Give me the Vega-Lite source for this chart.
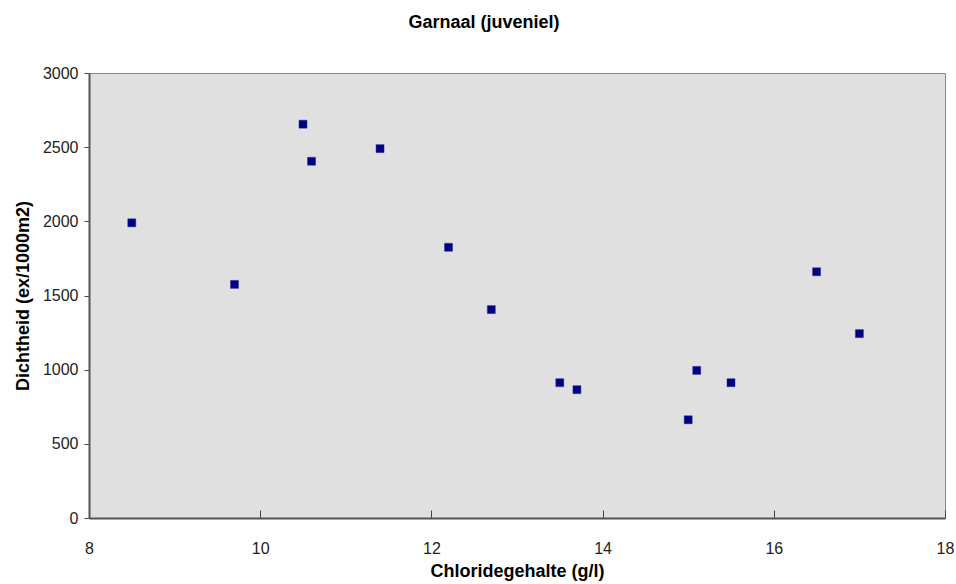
{
  "$schema": "https://vega.github.io/schema/vega-lite/v6.json",
  "width": 856,
  "height": 445,
  "autosize": {"type": "none"},
  "padding": {"left": 89, "top": 73, "right": 11, "bottom": 66},
  "background": "white",
  "title": {
    "text": "Garnaal (juveniel)",
    "font": "Liberation Sans",
    "fontSize": 18,
    "fontWeight": "bold",
    "color": "#000000",
    "anchor": "middle",
    "dx": -33,
    "offset": 33
  },
  "config": {
    "view": {"fill": "#e0e0e0", "stroke": "#888888", "strokeWidth": 1},
    "axis": {
      "labelFont": "Liberation Sans",
      "labelFontSize": 16,
      "labelColor": "#222222",
      "titleFont": "Liberation Sans",
      "titleFontSize": 18,
      "titleFontWeight": "bold",
      "titleColor": "#000000",
      "domainColor": "#555555",
      "domainWidth": 2,
      "tickColor": "#444444",
      "grid": false
    }
  },
  "data": {
    "values": [
      {"chloride": 8.5, "dichtheid": 1990},
      {"chloride": 9.7, "dichtheid": 1575},
      {"chloride": 10.5, "dichtheid": 2655},
      {"chloride": 10.6, "dichtheid": 2405},
      {"chloride": 11.4, "dichtheid": 2490},
      {"chloride": 12.2, "dichtheid": 1825},
      {"chloride": 12.7, "dichtheid": 1405},
      {"chloride": 13.5, "dichtheid": 912},
      {"chloride": 13.7, "dichtheid": 865},
      {"chloride": 15.0, "dichtheid": 662},
      {"chloride": 15.1, "dichtheid": 995},
      {"chloride": 15.5, "dichtheid": 912},
      {"chloride": 16.5, "dichtheid": 1660},
      {"chloride": 17.0, "dichtheid": 1243}
    ]
  },
  "mark": {"type": "square", "size": 64, "color": "#000080", "opacity": 1, "stroke": "#3030a0", "strokeWidth": 0.5},
  "encoding": {
    "x": {
      "field": "chloride",
      "type": "quantitative",
      "scale": {"domain": [8, 18], "nice": false, "zero": false},
      "axis": {
        "title": "Chloridegehalte (g/l)",
        "values": [8, 10, 12, 14, 16, 18],
        "format": "d",
        "tickSize": -8,
        "labelPadding": 30,
        "titlePadding": 6,
        "labelFlush": false
      }
    },
    "y": {
      "field": "dichtheid",
      "type": "quantitative",
      "scale": {"domain": [0, 3000], "nice": false},
      "axis": {
        "title": "Dichtheid (ex/1000m2)",
        "values": [0, 500, 1000, 1500, 2000, 2500, 3000],
        "format": "d",
        "tickSize": 5,
        "labelPadding": 6,
        "titlePadding": 10
      }
    }
  }
}
